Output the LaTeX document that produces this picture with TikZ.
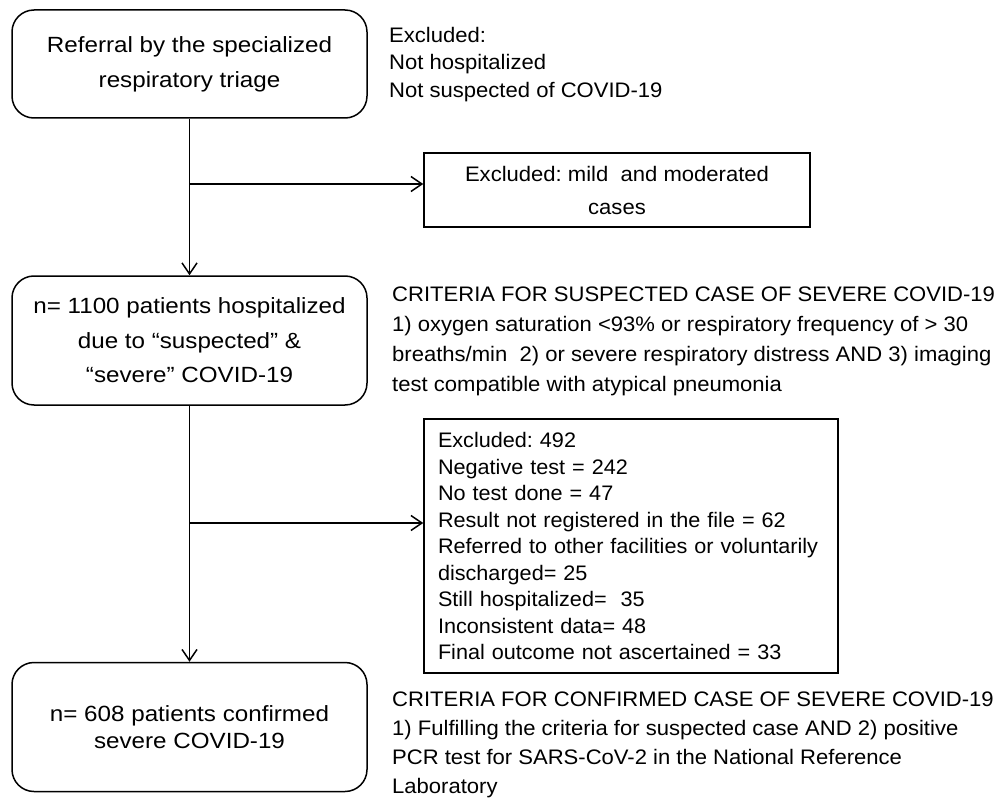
\documentclass[tikz,border=0pt]{standalone}
\usepackage{fontspec}
\setmainfont{Liberation Sans}
\newfontfamily\boxfont[FakeStretch=1.1]{Liberation Sans}
\newfontfamily\sidefont[FakeStretch=1.05]{Liberation Sans}
\newfontfamily\listfont[FakeStretch=1.03]{Liberation Sans}
\usetikzlibrary{arrows.meta}
\tikzset{
  x=1pt, y=-1pt,
  roundbox/.style={draw, line width=1.5pt, rounded corners=22pt, minimum width=355pt,
    inner sep=0pt, align=center},
  sqbox/.style={draw, line width=1.5pt, inner sep=0pt},
  sidetext/.style={anchor=west, inner sep=0pt, align=left,
    font=\sidefont\fontsize{21}{30}\selectfont},
  conn/.style={line width=1.5pt, -{Straight Barb[length=11pt,width=15pt]}},
}
\begin{document}
\hyphenpenalty=10000
\exhyphenpenalty=10000
\frenchspacing
\begin{tikzpicture}
\useasboundingbox (0,0) rectangle (996,805);

% main boxes
\node[roundbox, minimum height=108pt, font=\boxfont\fontsize{22}{35}\selectfont]
  (ref) at (189.5,64) {Referral by the specialized\\respiratory triage};
\node[roundbox, minimum height=129pt, font=\boxfont\fontsize{22}{34.5}\selectfont]
  (hosp) at (189.5,340.5) {n= 1100 patients hospitalized\\due to “suspected” \&\\“severe” COVID-19};
\node[roundbox, minimum height=129pt, font=\boxfont\fontsize{22}{27}\selectfont]
  (conf) at (189.5,727) {n= 608 patients confirmed\\severe COVID-19};

% exclusion boxes
\node[sqbox, minimum width=386pt, minimum height=74pt, align=center,
  font=\sidefont\fontsize{21}{33}\selectfont]
  (mild) at (617,190) {Excluded: mild\ \ and moderated\\cases};
\node[sqbox, text width=386pt, inner xsep=14pt, minimum height=254pt, align=left,
  font=\listfont\fontsize{21}{26.5}\selectfont]
  (excl) at (631,546) {Excluded: 492\\
Negative test = 242\\
No test done = 47\\
Result not registered in the file = 62\\
Referred to other facilities or voluntarily\\
discharged= 25\\
Still hospitalized=\ \ 35\\
Inconsistent data= 48\\
Final outcome not ascertained = 33};

% side texts
\node[sidetext, font=\sidefont\fontsize{21}{27.5}\selectfont] (ex1) at (389,64.5)
  {Excluded:\\Not hospitalized\\Not suspected of COVID-19};
\node[sidetext] (crit1) at (392,341)
  {CRITERIA FOR SUSPECTED CASE OF SEVERE COVID-19\\
1) oxygen saturation <93\% or respiratory frequency of > 30\\
breaths/min\ \ 2) or severe respiratory distress AND 3) imaging\\
test compatible with atypical pneumonia};
\node[sidetext, font=\sidefont\fontsize{21}{29}\selectfont] (crit2) at (392,745)
  {CRITERIA FOR CONFIRMED CASE OF SEVERE COVID-19\\
1) Fulfilling the criteria for suspected case AND 2) positive\\
PCR test for SARS-CoV-2 in the National Reference\\
Laboratory};

% connectors
\coordinate (j1) at (189.5,184);
\coordinate (j2) at (189.5,523);
\draw[conn] (ref.south) -- (hosp.north);
\draw[conn] (j1) -- (j1 -| mild.west);
\draw[conn] (hosp.south) -- (conf.north);
\draw[conn] (j2) -- (j2 -| excl.west);
\end{tikzpicture}
\end{document}
